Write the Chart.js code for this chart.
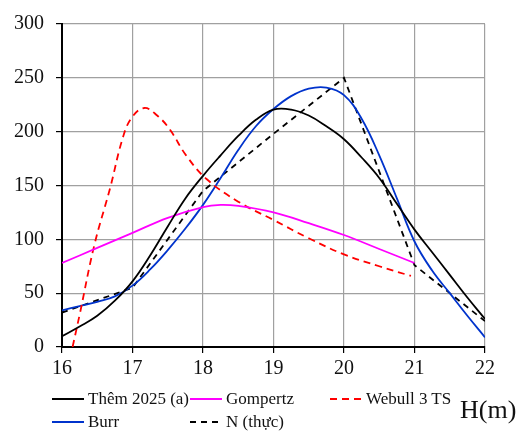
<!DOCTYPE html>
<html>
<head>
<meta charset="utf-8">
<script src="https://cdn.jsdelivr.net/npm/chart.js@4.4.1/dist/chart.umd.min.js"></script>
<style>
  html, body { margin:0; padding:0; background:#fff; }
  #wrap { position:relative; width:517px; height:432px; font-family:"Liberation Serif","Times New Roman",serif; }
  #chart { position:absolute; left:0; top:0; }
  .leg { position:absolute; display:flex; align-items:center; font-size:17px; color:#111; white-space:nowrap; }
  .leg svg { margin-right:4px; }
  #unit { position:absolute; left:460px; top:395px; font-size:26px; color:#111; }
</style>
</head>
<body>
<div id="wrap">
  <canvas id="chart" width="517" height="432"></canvas>
  <div id="unit">H(m)</div>
</div>
<script>
// Thêm 2025 (a)
const themX = [16, 16.25, 16.5, 16.75, 17, 17.25, 17.5, 17.75, 18, 18.25, 18.5, 18.75, 19, 19.25, 19.5, 19.75, 20, 20.25, 20.5, 20.75, 21, 21.25, 21.5, 21.75, 22];
const themY = [10, 19, 29, 43, 61, 85, 112, 138, 159, 178, 196, 211, 220.5, 220.5, 215, 205, 193, 176, 157, 133, 109, 88, 67, 46, 26];
// Gompertz
const gompX = [16, 16.5, 17, 17.5, 18, 18.25, 18.5, 19, 19.5, 20, 20.5, 21];
const gompY = [78, 92, 106, 120, 130, 132, 131, 125, 115, 104, 91, 78];
// Webull 3 TS
const webX = [16.15, 16.25, 16.46, 16.68, 16.87, 17, 17.17, 17.35, 17.53, 17.76, 18.05, 18.5, 19, 19.5, 20, 20.5, 20.95];
const webY = [0, 30, 95, 147, 196, 214, 222, 215, 202, 178, 156, 135, 118, 101, 86, 75, 66];
// Burr
const burrX = [16, 16.25, 16.5, 16.75, 17, 17.25, 17.5, 17.75, 18, 18.25, 18.5, 18.75, 19, 19.25, 19.5, 19.75, 20, 20.25, 20.5, 20.75, 21, 21.25, 21.5, 21.75, 22];
const burrY = [34, 38, 42, 47, 57, 72, 90, 110, 132, 157, 183, 205, 221, 233, 240, 241, 234, 212, 178, 138, 98, 71, 50, 29, 9];
// N (thực)
const nX = [16, 17, 18, 19, 20, 21, 22];
const nY = [32, 55, 145, 198, 250, 76, 24];

const xTicks = [16, 17, 18, 19, 20, 21, 22];
const yTicks = [0, 50, 100, 150, 200, 250, 300];

const pts = (xs, ys) => xs.map((x, i) => ({ x, y: ys[i] }));

const series = [
  { label:'Thêm 2025 (a)', data:pts(themX, themY), color:'#000000', dash:[],    smooth:true,  col:0, row:0 },
  { label:'Gompertz',      data:pts(gompX, gompY), color:'#ff00ff', dash:[],    smooth:true,  col:1, row:0 },
  { label:'Webull 3 TS',   data:pts(webX, webY),   color:'#ff0000', dash:[7,5], smooth:true,  col:2, row:0 },
  { label:'Burr',          data:pts(burrX, burrY), color:'#0033cc', dash:[],    smooth:true,  col:0, row:1 },
  { label:'N (thực)',      data:pts(nX, nY),       color:'#000000', dash:[6,5], smooth:false, col:1, row:1 }
];

const tickFont = { family:'"Liberation Serif","Times New Roman",serif', size:20 };

new Chart(document.getElementById('chart').getContext('2d'), {
  type:'line',
  data:{
    datasets: series.map(s => ({
      label:s.label, data:s.data,
      borderColor:s.color, borderDash:s.dash, borderWidth:1.8,
      pointRadius:0, fill:false,
      tension: s.smooth ? 0.4 : 0
    }))
  },
  options:{
    responsive:false, animation:false,
    layout:{ padding:{ top:20, right:32, left:0, bottom:0 } },
    plugins:{ legend:{ display:false }, tooltip:{ enabled:false } },
    scales:{
      x:{
        type:'linear', min:16, max:22,
        afterBuildTicks: a => { a.ticks = xTicks.map(v => ({ value:v })); },
        afterFit: a => { a.height = 85; },
        grid:{ color:'#a0a0a0', lineWidth:1.2, tickColor:'#000', tickLength:6 },
        border:{ color:'#000', width:2 },
        ticks:{ font:tickFont, color:'#111', padding:4, maxRotation:0 }
      },
      y:{
        min:0, max:300,
        afterBuildTicks: a => { a.ticks = yTicks.map(v => ({ value:v })); },
        afterFit: a => { a.width = 62; },
        grid:{ color:'#a0a0a0', lineWidth:1.2, tickColor:'#000', tickLength:6 },
        border:{ color:'#000', width:2 },
        ticks:{ font:tickFont, color:'#111', padding:12 }
      }
    }
  }
});

// legend laid out like the reference: 3 columns, 2 rows
const colLeft = [52, 190, 330], rowMid = [399, 422];
const wrap = document.getElementById('wrap');
series.forEach(s => {
  const d = document.createElement('div');
  d.className = 'leg';
  d.style.left = colLeft[s.col] + 'px';
  d.style.top = (rowMid[s.row] - 11) + 'px';
  d.style.height = '22px';
  const dash = s.dash.length ? `stroke-dasharray="${s.dash.join(' ')}"` : '';
  d.innerHTML = `<svg width="32" height="4"><line x1="0" y1="2" x2="32" y2="2" stroke="${s.color}" stroke-width="2" ${dash}/></svg><span>${s.label}</span>`;
  wrap.appendChild(d);
});
</script>
</body>
</html>
